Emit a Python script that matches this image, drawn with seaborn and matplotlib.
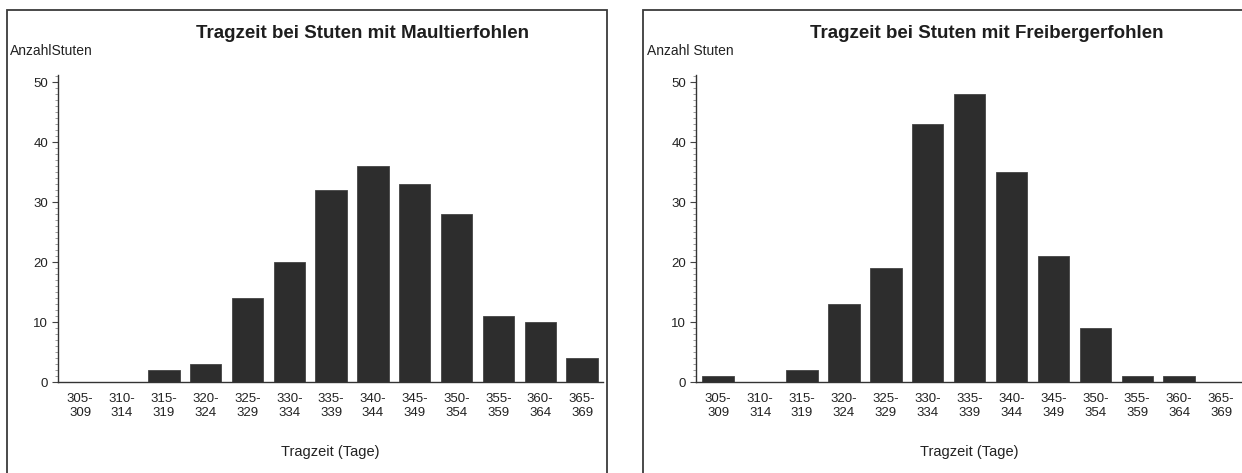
import matplotlib
matplotlib.use("Agg")
import matplotlib.pyplot as plt
from matplotlib.patches import Rectangle
from matplotlib.ticker import MultipleLocator
import numpy as np
import pandas as pd
import seaborn as sns

sns.set_theme(style="white")
plt.rcParams['font.family'] = ['Liberation Sans', 'DejaVu Sans']

# Tragzeit classes (days)
klassen = ['305-\n309', '310-\n314', '315-\n319', '320-\n324', '325-\n329',
           '330-\n334', '335-\n339', '340-\n344', '345-\n349', '350-\n354',
           '355-\n359', '360-\n364', '365-\n369']
maultier = [0, 0, 2, 3, 14, 20, 32, 36, 33, 28, 11, 10, 4]
freiberger = [1, 0, 2, 13, 19, 43, 48, 35, 21, 9, 1, 1, 0]

titles = ['Tragzeit bei Stuten mit Maultierfohlen',
          'Tragzeit bei Stuten mit Freibergerfohlen']
ylabels = ['AnzahlStuten', 'Anzahl Stuten']

W, H = 1242, 473
fig = plt.figure(figsize=(W / 100, H / 100), dpi=100)
fig.patch.set_facecolor('white')

def fx(px):
    return px / W

def fy(py):
    return 1 - py / H

# panel frames (scanned page boxes)
for x0, x1 in [(7, 607), (643, 1260)]:
    fig.patches.append(Rectangle((fx(x0), fy(490)), fx(x1 - x0), (490 - 10) / H,
                                 transform=fig.transFigure, fill=False,
                                 edgecolor='#3a3a3a', linewidth=1.3))

axes_px = [(58, 603), (696, 1242)]
title_x = [362, 987]
ylab_x = [10, 647]
series = [maultier, freiberger]

for i in range(2):
    a0, a1 = axes_px[i]
    ax = fig.add_axes([fx(a0), fy(382), fx(a1 - a0), (382 - 75) / H])
    df = pd.DataFrame({'klasse': klassen, 'anzahl': series[i]})
    sns.barplot(data=df, x='klasse', y='anzahl', order=klassen, color='#2d2d2d',
                saturation=1, width=0.75, edgecolor='#444444', linewidth=0.6, ax=ax)
    ax.set_xlim(-0.53, 12.5)
    ax.set_ylim(0, 51.2)
    ax.set_yticks([0, 10, 20, 30, 40, 50])
    ax.yaxis.set_minor_locator(MultipleLocator(1))
    ax.tick_params(axis='y', which='major', left=True, length=4, width=0.8,
                   color='#444444', labelsize=9.5, labelcolor='#222222', pad=3)
    ax.tick_params(axis='y', which='minor', left=True, length=2, width=0.5,
                   color='#777777')
    ax.tick_params(axis='x', bottom=False, labelsize=9.5, labelcolor='#222222', pad=2)
    for lab in ax.get_xticklabels():
        lab.set_linespacing(1.2)
    for s in ['top', 'right']:
        ax.spines[s].set_visible(False)
    for s in ['left', 'bottom']:
        ax.spines[s].set_color('#333333')
        ax.spines[s].set_linewidth(1.0)
    ax.set_facecolor('none')
    ax.set_xlabel('Tragzeit (Tage)', fontsize=10.5, color='#222222', labelpad=19)
    ax.set_ylabel('')
    fig.text(fx(title_x[i]), fy(33), titles[i], ha='center', va='center',
             fontsize=13.5, fontweight='bold', color='#1e1e1e')
    fig.text(fx(ylab_x[i]), fy(51), ylabels[i], ha='left', va='center',
             fontsize=10, color='#222222')

fig.savefig('out.png', dpi=100, facecolor='white')
